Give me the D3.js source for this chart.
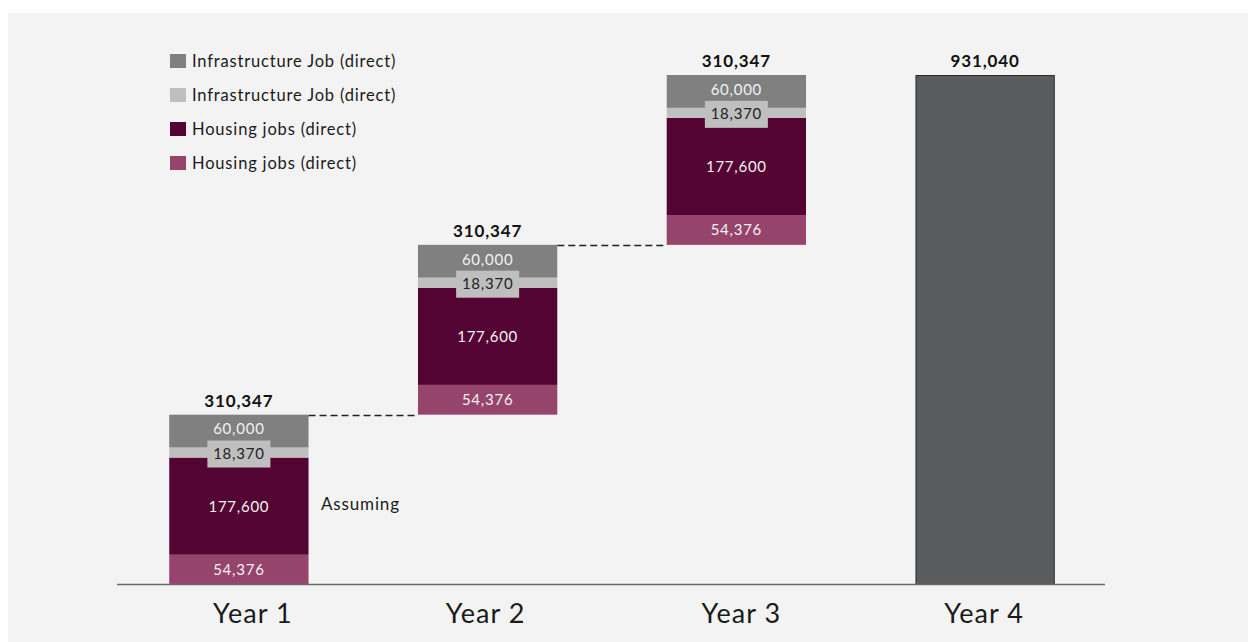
<!DOCTYPE html>
<html>
<head>
<meta charset="utf-8">
<script src="https://cdn.jsdelivr.net/npm/d3@7"></script>
<style>
  html, body { margin: 0; padding: 0; background: #fff; }
  svg text { font-family: Lato, "Noto Sans", sans-serif; letter-spacing: 0.05em; }
</style>
</head>
<body>
<div id="chart"></div>
<script>
// data
const years = ["Year 1", "Year 2", "Year 3", "Year 4"];
const seriesKeys = ["housingB", "housingA", "infraB", "infraA"]; // bottom -> top
const legendNames = ["Infrastructure Job (direct)", "Infrastructure Job (direct)", "Housing jobs (direct)", "Housing jobs (direct)"];
const legendColors = ["#808080", "#bfbfbf", "#530432", "#97446d"];
const housingB = [54376, 54376, 54376];   // pink
const housingA = [177600, 177600, 177600]; // maroon
const infraB = [18370, 18370, 18370];     // light grey
const infraA = [60000, 60000, 60000];     // grey
const totals = [310347, 310347, 310347, 931040];
const finalTotal = 931040;

const W = 1248, H = 642;
const svg = d3.select("#chart").append("svg").attr("width", W).attr("height", H);

// panel
svg.append("rect").attr("x", 8).attr("y", 13).attr("width", W - 8).attr("height", H - 13).attr("fill", "#f3f3f3");

const x = d3.scaleBand().domain(years).range([118, 1106]).paddingInner(0.44).paddingOuter(0.206);
const y = d3.scaleLinear().domain([0, finalTotal]).range([584.5, 75]);

const colorOf = { infraA: "#808080", infraB: "#bfbfbf", housingA: "#530432", housingB: "#97446d" };

// stacked rows for years 1-3, offset by running total (waterfall)
const rows = [0, 1, 2].map(i => ({
  year: years[i],
  housingB: housingB[i], housingA: housingA[i], infraB: infraB[i], infraA: infraA[i]
}));
const stacked = d3.stack().keys(seriesKeys)(rows);
const bases = d3.cumsum([0].concat(totals.slice(0, 2)));

const g = svg.append("g");

stacked.forEach(layer => {
  layer.forEach((d, i) => {
    const y0 = y(d[0] + bases[i]), y1 = y(d[1] + bases[i]);
    g.append("rect")
      .attr("x", x(years[i])).attr("width", x.bandwidth())
      .attr("y", y1).attr("height", y0 - y1)
      .attr("fill", colorOf[layer.key]);
  });
});

// segment labels
stacked.forEach(layer => {
  layer.forEach((d, i) => {
    const cx = x(years[i]) + x.bandwidth() / 2;
    const cy = (y(d[0] + bases[i]) + y(d[1] + bases[i])) / 2;
    const val = d[1] - d[0];
    if (layer.key === "infraB") {
      g.append("rect").attr("x", cx - 31.5).attr("y", cy - 12).attr("width", 63).attr("height", 27).attr("fill", "#bfbfbf");
    }
    g.append("text")
      .attr("x", cx).attr("y", cy + (layer.key === "infraA" ? -2 : layer.key === "infraB" ? 1 : 0)).attr("dy", "0.36em")
      .attr("text-anchor", "middle")
      .attr("font-size", 15)
      .attr("fill", layer.key === "infraB" ? "#222" : "#f2f2f2")
      .text(d3.format(",")(val));
  });
});

// final bar
g.append("rect")
  .attr("x", x("Year 4") + 0.5).attr("width", x.bandwidth() - 1)
  .attr("y", y(finalTotal) + 0.5).attr("height", y(0) - y(finalTotal) - 0.5)
  .attr("fill", "#5a5b5d").attr("stroke", "#2a2a2a").attr("stroke-width", 1);

// totals
years.forEach((yr, i) => {
  const top = i < 3 ? bases[i] + totals[i] : finalTotal;
  g.append("text")
    .attr("x", x(yr) + x.bandwidth() / 2).attr("y", y(top) - 8)
    .attr("text-anchor", "middle").attr("font-size", 17).attr("font-weight", "bold")
    .attr("fill", "#111").text(d3.format(",")(totals[i]));
});

// dashed connectors
[0, 1].forEach(i => {
  const ty = Math.round(y(bases[i] + totals[i])) + 0.5;
  g.append("line")
    .attr("x1", x(years[i]) + x.bandwidth()).attr("x2", x(years[i + 1]))
    .attr("y1", ty).attr("y2", ty)
    .attr("stroke", "#222").attr("stroke-width", 1.5).attr("stroke-dasharray", "7,4");
});

// baseline
g.append("line").attr("x1", 117).attr("x2", 1105).attr("y1", 584.5).attr("y2", 584.5)
  .attr("stroke", "#6a6a6a").attr("stroke-width", 1.5);

// x axis labels (the original labels sit a little off the bar centres)
const labelNudge = [14, -2, 5, -1];
const xAxis = d3.axisBottom(x).tickSize(0).tickPadding(19);
const ax = svg.append("g").attr("transform", "translate(0,585)").call(xAxis);
ax.select(".domain").remove();
ax.selectAll(".tick text").attr("font-size", 27).attr("fill", "#1a1a1a")
  .attr("font-family", "Lato, 'Noto Sans', sans-serif").style("letter-spacing", "0.04em")
  .attr("dx", (d, i) => labelNudge[i]);

// annotation
svg.append("text").attr("x", 321).attr("y", 504).attr("dy", "0.36em")
  .attr("font-size", 17).attr("fill", "#1a1a1a").text("Assuming");

// legend
const leg = svg.append("g").attr("transform", "translate(170,54)");
legendNames.forEach((name, i) => {
  const row = leg.append("g").attr("transform", `translate(0,${i * 34})`);
  row.append("rect").attr("width", 16).attr("height", 14).attr("fill", legendColors[i]);
  row.append("text").attr("x", 22).attr("y", 7).attr("dy", "0.36em")
    .attr("font-size", 16.5).attr("fill", "#1a1a1a").text(name);
});
</script>
</body>
</html>
